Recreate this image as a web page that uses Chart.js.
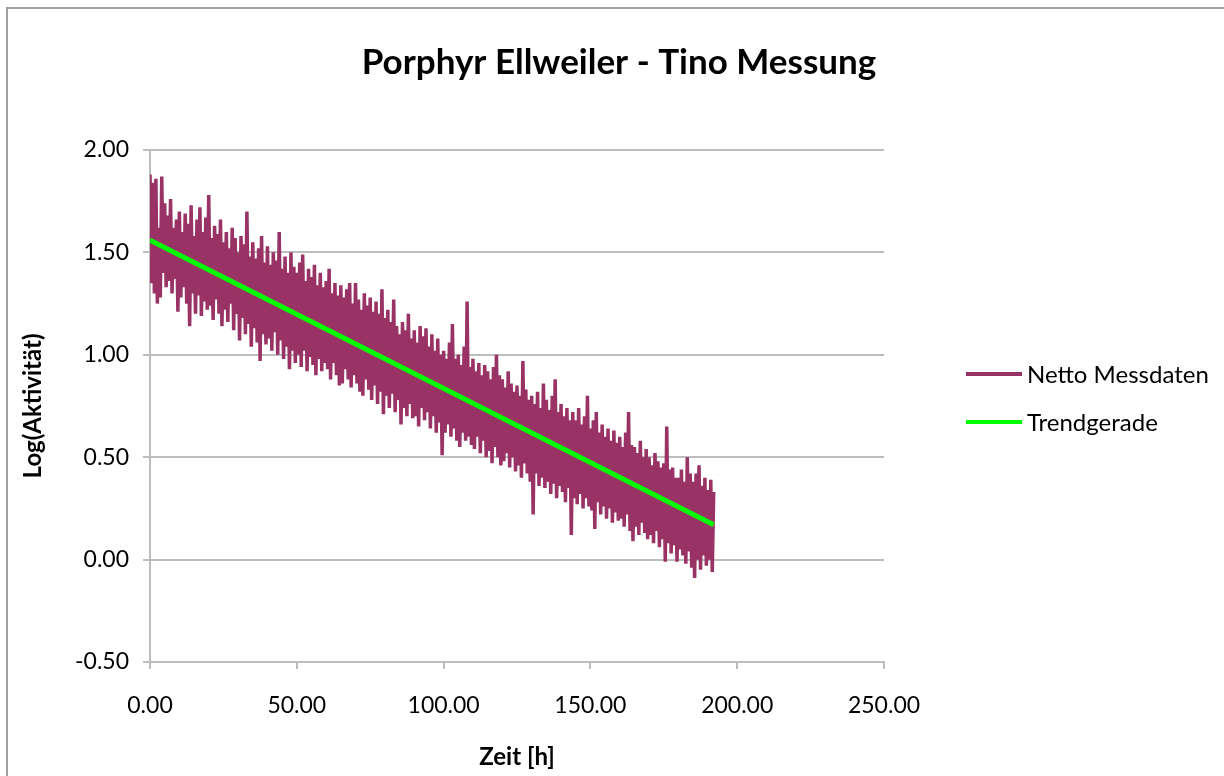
<!DOCTYPE html>
<html>
<head>
<meta charset="utf-8">
<script src="https://cdn.jsdelivr.net/npm/chart.js@4.4.1/dist/chart.umd.min.js"></script>
<style>
  html, body { margin: 0; padding: 0; background: #fff; }
</style>
</head>
<body>
<canvas id="myChart" width="1224" height="776"></canvas>
<script>
// data, one reading every half hour (0 .. 192 h)
const hourStep = 0.5;
const nettoValues = [
    1.88, 1.35, 1.84, 1.30, 1.86, 1.25, 1.62, 1.28, 1.87, 1.40,
    1.74, 1.33, 1.68, 1.36, 1.76, 1.30, 1.62, 1.37, 1.66, 1.21,
    1.70, 1.28, 1.60, 1.33, 1.69, 1.25, 1.64, 1.14, 1.73, 1.30,
    1.58, 1.20, 1.66, 1.29, 1.72, 1.19, 1.60, 1.26, 1.67, 1.22,
    1.78, 1.24, 1.57, 1.17, 1.63, 1.27, 1.59, 1.20, 1.66, 1.14,
    1.55, 1.22, 1.60, 1.16, 1.52, 1.25, 1.62, 1.12, 1.57, 1.20,
    1.50, 1.07, 1.58, 1.18, 1.54, 1.10, 1.70, 1.15, 1.48, 1.04,
    1.55, 1.13, 1.47, 1.06, 1.52, 0.97, 1.58, 1.10, 1.45, 1.05,
    1.53, 1.08, 1.44, 1.02, 1.50, 1.11, 1.46, 1.00, 1.60, 1.07,
    1.42, 0.98, 1.48, 1.04, 1.40, 0.93, 1.50, 1.02, 1.43, 0.96,
    1.40, 1.00, 1.45, 0.94, 1.49, 1.02, 1.36, 0.92, 1.42, 0.99,
    1.38, 0.95, 1.44, 0.90, 1.34, 0.98, 1.40, 0.92, 1.33, 0.96,
    1.36, 0.93, 1.42, 0.88, 1.30, 0.96, 1.35, 0.90, 1.29, 0.85,
    1.34, 0.86, 1.28, 0.93, 1.32, 0.88, 1.35, 0.84, 1.25, 0.90,
    1.35, 0.86, 1.27, 0.82, 1.22, 0.80, 1.30, 0.88, 1.24, 0.83,
    1.28, 0.78, 1.21, 0.85, 1.26, 0.76, 1.20, 0.82, 1.32, 0.71,
    1.18, 0.80, 1.22, 0.74, 1.16, 0.81, 1.27, 0.72, 1.14, 0.78,
    1.10, 0.66, 1.16, 0.74, 1.12, 0.70, 1.20, 0.76, 1.08, 0.69,
    1.12, 0.70, 1.06, 0.65, 1.14, 0.74, 1.09, 0.68, 1.13, 0.72,
    1.04, 0.64, 1.10, 0.70, 1.02, 0.62, 1.08, 0.67, 1.00, 0.51,
    1.02, 0.62, 0.98, 0.66, 1.06, 0.60, 1.15, 0.64, 0.98, 0.58,
    1.00, 0.55, 0.95, 0.62, 1.04, 0.58, 1.26, 0.60, 0.94, 0.56,
    0.98, 0.54, 0.92, 0.60, 0.96, 0.52, 0.90, 0.58, 0.95, 0.50,
    0.92, 0.53, 0.88, 0.47, 0.94, 0.55, 1.00, 0.50, 0.90, 0.46,
    0.88, 0.48, 0.84, 0.52, 0.92, 0.45, 0.86, 0.50, 0.82, 0.43,
    0.85, 0.46, 0.80, 0.40, 0.97, 0.47, 0.83, 0.42, 0.78, 0.38,
    0.80, 0.22, 0.76, 0.42, 0.82, 0.36, 0.74, 0.40, 0.86, 0.35,
    0.78, 0.38, 0.73, 0.32, 0.80, 0.37, 0.88, 0.30, 0.72, 0.36,
    0.76, 0.33, 0.70, 0.28, 0.74, 0.35, 0.68, 0.12, 0.72, 0.30,
    0.68, 0.27, 0.74, 0.32, 0.66, 0.25, 0.70, 0.30, 0.80, 0.26,
    0.64, 0.24, 0.68, 0.15, 0.72, 0.28, 0.62, 0.22, 0.66, 0.26,
    0.60, 0.20, 0.64, 0.25, 0.58, 0.18, 0.63, 0.23, 0.57, 0.19,
    0.60, 0.20, 0.55, 0.16, 0.62, 0.22, 0.72, 0.14, 0.56, 0.09,
    0.55, 0.16, 0.52, 0.12, 0.58, 0.18, 0.50, 0.13, 0.54, 0.10,
    0.50, 0.12, 0.46, 0.08, 0.52, 0.14, 0.48, 0.06, 0.45, 0.10,
    0.47, -0.01, 0.65, 0.08, 0.44, 0.03, 0.45, 0.07, 0.40, -0.01,
    0.40, 0.05, 0.44, 0.02, 0.38, -0.02, 0.50, 0.04, 0.42, -0.04,
    0.38, -0.09, 0.42, 0.00, 0.46, -0.05, 0.36, 0.02, 0.40, -0.03,
    0.34, 0.00, 0.39, -0.06, 0.33
];
const trendHours = [0, 192];
const trendValues = [1.56, 0.17];
const seriesLabels = ['Netto Messdaten', 'Trendgerade'];
const xTicks = [0, 50, 100, 150, 200, 250];
const yTicks = [-0.5, 0, 0.5, 1, 1.5, 2];

const FONT = 'Lato';
const axisGray = '#bdbdbd';

const nettoPoints = nettoValues.map((v, i) => ({ x: i * hourStep, y: v }));
const trendPoints = trendValues.map((v, i) => ({ x: trendHours[i], y: v }));

// white page + outer frame
const framePlugin = {
    id: 'frame',
    beforeDraw(chart) {
        const ctx = chart.ctx;
        ctx.save();
        ctx.fillStyle = '#fff';
        ctx.fillRect(0, 0, chart.width, chart.height);
        ctx.strokeStyle = '#a0a0a0';
        ctx.lineWidth = 2;
        ctx.strokeRect(7, 8, chart.width + 20, chart.height + 20);
        ctx.restore();
    }
};

// legend to the right of the plot, excel style
const sideLegend = {
    id: 'sideLegend',
    afterDraw(chart) {
        const ctx = chart.ctx;
        ctx.save();
        chart.data.datasets.forEach((ds, i) => {
            const y = 374 + i * 48;
            ctx.strokeStyle = ds.borderColor;
            ctx.lineWidth = 4;
            ctx.beginPath();
            ctx.moveTo(966, y);
            ctx.lineTo(1022, y);
            ctx.stroke();
            ctx.fillStyle = '#000';
            ctx.font = '24px ' + FONT;
            ctx.textBaseline = 'middle';
            ctx.fillText(ds.label, 1027, y + 1);
        });
        ctx.restore();
    }
};

const ctx = document.getElementById('myChart');
const myChart = new Chart(ctx, {
    type: 'scatter',
    data: {
        datasets: [{
            label: seriesLabels[0],
            data: nettoPoints,
            showLine: true,
            borderColor: '#993366',
            backgroundColor: '#993366',
            borderWidth: 3.5,
            pointRadius: 0,
            tension: 0,
            order: 2
        }, {
            label: seriesLabels[1],
            data: trendPoints,
            showLine: true,
            borderColor: '#00ff00',
            backgroundColor: '#00ff00',
            borderWidth: 5,
            pointRadius: 0,
            order: 1
        }]
    },
    options: {
        responsive: false,
        animation: false,
        devicePixelRatio: 1,
        layout: {
            padding: { left: 14, right: 0, top: 0, bottom: 0 }
        },
        plugins: {
            legend: { display: false },
            tooltip: { enabled: false },
            title: {
                display: true,
                text: 'Porphyr Ellweiler - Tino Messung',
                color: '#000',
                font: { family: FONT, size: 35, weight: 'bold' },
                padding: { top: 42, bottom: 66 }
            }
        },
        scales: {
            x: {
                type: 'linear',
                min: 0,
                max: 250,
                afterBuildTicks: (s) => { s.ticks = xTicks.map(v => ({ value: v })); },
                afterFit: (s) => { s.height = 114; },
                ticks: {
                    color: '#000',
                    font: { family: FONT, size: 23 },
                    padding: 23,
                    maxRotation: 0,
                    callback: (v) => Number(v).toFixed(2)
                },
                grid: {
                    drawOnChartArea: false,
                    drawTicks: true,
                    tickLength: 7,
                    color: axisGray,
                    lineWidth: 2
                },
                border: { display: true, color: axisGray, width: 2 },
                title: {
                    display: true,
                    text: 'Zeit [h]',
                    color: '#000',
                    font: { family: FONT, size: 24, weight: 'bold' },
                    padding: { top: 0, bottom: 4 }
                }
            },
            y: {
                min: -0.5,
                max: 2,
                afterBuildTicks: (s) => { s.ticks = yTicks.map(v => ({ value: v })); },
                afterFit: (s) => { s.width = 136; },
                ticks: {
                    color: '#000',
                    font: { family: FONT, size: 23 },
                    padding: 14,
                    callback: (v) => Number(v).toFixed(2)
                },
                grid: {
                    drawTicks: true,
                    tickLength: 7,
                    color: axisGray,
                    lineWidth: 2
                },
                border: { display: true, color: axisGray, width: 2 },
                title: {
                    display: true,
                    text: 'Log(Aktivität)',
                    color: '#000',
                    font: { family: FONT, size: 24, weight: 'bold' },
                    padding: { top: 5, bottom: 0 }
                }
            },
            // empty space right of the plot, where the legend sits
            legendSpace: {
                position: 'right',
                min: 0,
                max: 1,
                afterFit: (s) => { s.width = 340; },
                ticks: { display: false },
                grid: { display: false },
                border: { display: false }
            }
        }
    },
    plugins: [framePlugin, sideLegend]
});
</script>
</body>
</html>
